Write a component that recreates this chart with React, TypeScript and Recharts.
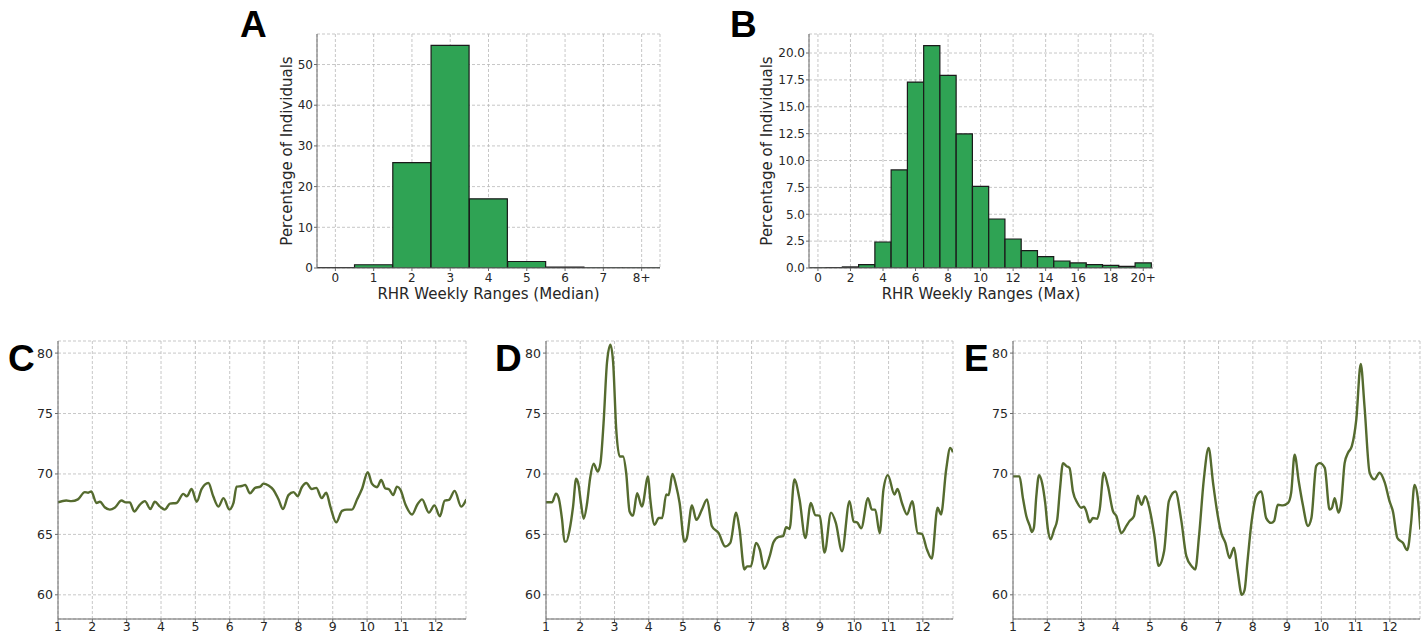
import { Bar, BarChart, CartesianGrid, Label, Line, LineChart, XAxis, YAxis } from 'recharts';

// histogram A: weekly RHR range (median), % of individuals
const medianBins = [0, 1, 2, 3, 4, 5, 6, 7, 8];
const medianBinLabels = ['0', '1', '2', '3', '4', '5', '6', '7', '8+'];
const medianPct = [0.1, 0.8, 25.9, 54.7, 17.0, 1.6, 0.2, 0.05, 0.05];

// histogram B: weekly RHR range (max)
const maxBins = [0, 1, 2, 3, 4, 5, 6, 7, 8, 9, 10, 11, 12, 13, 14, 15, 16, 17, 18, 19, 20];
const maxPct = [
  0.02, 0.04, 0.1, 0.31, 2.42, 9.12, 17.3, 20.68, 17.92, 12.47,
  7.6, 4.56, 2.7, 1.61, 1.05, 0.65, 0.47, 0.31, 0.25, 0.16,
  0.47,
];
const maxTicks = [0, 2, 4, 6, 8, 10, 12, 14, 16, 18, 20];
const maxTickLabels = ['0', '2', '4', '6', '8', '10', '12', '14', '16', '18', '20+'];

const medianYTicks = [0, 10, 20, 30, 40, 50];
const maxYTicks = [0, 2.5, 5, 7.5, 10, 12.5, 15, 17.5, 20];

// time series C/D/E (month, RHR)
const monthTicks = [1, 2, 3, 4, 5, 6, 7, 8, 9, 10, 11, 12];
const rhrTicks = [60, 65, 70, 75, 80];

const cMonth = [
  1.0, 1.24, 1.39, 1.58, 1.78, 1.88, 1.97, 2.12, 2.22, 2.36,
  2.51, 2.65, 2.85, 2.97, 3.09, 3.22, 3.38, 3.53, 3.69, 3.82,
  3.97, 4.11, 4.26, 4.45, 4.65, 4.75, 4.89, 5.04, 5.18, 5.38,
  5.52, 5.67, 5.82, 5.99, 6.11, 6.2, 6.35, 6.45, 6.59, 6.74,
  6.89, 6.98, 7.13, 7.27, 7.42, 7.55, 7.71, 7.86, 7.98, 8.1,
  8.23, 8.39, 8.52, 8.68, 8.81, 8.93, 9.1, 9.27, 9.41, 9.56,
  9.71, 9.85, 10.02, 10.14, 10.29, 10.41, 10.53, 10.63, 10.76, 10.87,
  10.97, 11.12, 11.31, 11.46, 11.6, 11.8, 11.96, 12.12, 12.26, 12.38,
  12.55, 12.74, 12.89,
];
const cRhr = [
  67.66, 67.8, 67.75, 67.9, 68.5, 68.45, 68.55, 67.6, 67.7, 67.25,
  67.05, 67.2, 67.8, 67.65, 67.65, 66.9, 67.45, 67.75, 67.1, 67.7,
  67.3, 67.05, 67.55, 67.6, 68.35, 68.15, 68.75, 67.7, 68.75, 69.25,
  68.15, 67.3, 68.0, 67.05, 67.6, 68.95, 69.0, 69.1, 68.4, 68.85,
  68.95, 69.2, 69.05, 68.7, 67.9, 67.1, 68.25, 68.5, 68.15, 68.9,
  69.25, 68.75, 68.85, 68.0, 68.45, 67.3, 66.0, 66.95, 67.05, 67.05,
  67.9, 68.75, 70.15, 69.2, 68.9, 69.5, 68.8, 68.75, 68.25, 68.95,
  68.7, 67.45, 66.65, 67.45, 67.9, 66.8, 67.4, 66.5, 67.8, 67.85,
  68.6, 67.3, 67.9,
];

const dMonth = [
  1.0, 1.18, 1.29, 1.37, 1.47, 1.54, 1.59, 1.69, 1.79, 1.88,
  1.95, 2.02, 2.1, 2.2, 2.29, 2.39, 2.51, 2.59, 2.68, 2.78,
  2.88, 2.96, 3.05, 3.15, 3.25, 3.34, 3.44, 3.54, 3.66, 3.8,
  3.98, 4.04, 4.17, 4.29, 4.39, 4.51, 4.58, 4.69, 4.8, 4.9,
  5.04, 5.11, 5.26, 5.39, 5.55, 5.7, 5.84, 6.04, 6.23, 6.38,
  6.55, 6.65, 6.79, 6.87, 6.98, 7.13, 7.24, 7.37, 7.53, 7.64,
  7.79, 7.92, 8.01, 8.11, 8.25, 8.4, 8.57, 8.73, 8.86, 8.99,
  9.13, 9.32, 9.46, 9.64, 9.86, 9.98, 10.08, 10.2, 10.4, 10.51,
  10.61, 10.74, 10.85, 10.98, 11.17, 11.26, 11.39, 11.54, 11.69, 11.85,
  11.97, 12.12, 12.26, 12.43, 12.53, 12.68, 12.8, 12.88,
];
const dRhr = [
  67.66, 67.66, 68.37, 68.0, 66.2, 64.4, 64.4, 65.4, 67.3, 69.6,
  69.1, 67.6, 66.3, 67.6, 69.7, 70.85, 70.2, 70.9, 74.2, 79.2,
  80.7, 79.2, 73.7, 71.45, 71.45, 70.1, 66.9, 66.55, 68.4, 67.3,
  69.8, 68.0, 65.8, 66.35, 66.35, 68.3, 68.25, 70.0, 69.0, 67.6,
  64.4, 64.7, 67.4, 66.2, 67.05, 67.9, 65.7, 65.1, 64.0, 64.3,
  66.8, 65.4, 62.1, 62.35, 62.35, 64.3, 63.75, 62.15, 63.2, 64.35,
  64.8, 64.85, 65.6, 65.45, 69.55, 67.9, 64.7, 67.6, 66.6, 66.55,
  63.5, 66.8, 65.95, 63.6, 67.75, 66.05, 66.0, 65.5, 68.0, 67.05,
  67.05, 65.1, 68.7, 69.9, 68.3, 68.75, 67.6, 66.65, 67.75, 65.1,
  65.05, 63.75, 63.0, 67.2, 66.65, 70.35, 72.15, 71.8,
];

const eMonth = [
  1.0, 1.19, 1.29, 1.39, 1.49, 1.55, 1.61, 1.68, 1.76, 1.85,
  1.94, 2.02, 2.1, 2.2, 2.29, 2.37, 2.46, 2.56, 2.65, 2.75,
  2.88, 2.99, 3.07, 3.14, 3.24, 3.33, 3.46, 3.53, 3.65, 3.77,
  3.92, 4.02, 4.16, 4.31, 4.4, 4.53, 4.64, 4.75, 4.86, 4.99,
  5.13, 5.25, 5.41, 5.55, 5.74, 5.91, 6.06, 6.22, 6.32, 6.43,
  6.57, 6.71, 6.84, 6.98, 7.08, 7.2, 7.32, 7.45, 7.55, 7.68,
  7.76, 7.84, 7.96, 8.1, 8.25, 8.39, 8.54, 8.62, 8.73, 8.88,
  9.03, 9.12, 9.22, 9.34, 9.46, 9.61, 9.71, 9.85, 9.95, 10.1,
  10.24, 10.31, 10.39, 10.5, 10.58, 10.68, 10.78, 10.89, 11.02, 11.15,
  11.26, 11.41, 11.55, 11.7, 11.85, 11.99, 12.09, 12.22, 12.38, 12.51,
  12.62, 12.72, 12.82, 12.89,
];
const eRhr = [
  69.8, 69.8, 68.0, 66.5, 65.7, 65.2, 65.55, 68.15, 69.9, 69.25,
  67.6, 65.4, 64.6, 65.4, 66.2, 68.7, 70.9, 70.65, 70.5, 68.55,
  67.6, 67.2, 67.3, 66.9, 66.0, 66.35, 66.3, 67.05, 70.1, 69.0,
  66.9, 66.5, 65.1, 65.7, 66.1, 66.5, 68.2, 67.45, 68.15, 67.05,
  64.85, 62.4, 63.6, 67.75, 68.55, 66.2, 63.2, 62.35, 62.1, 64.85,
  69.55, 72.15, 69.25, 66.5, 65.1, 64.3, 63.05, 63.9, 62.1, 60.0,
  60.4, 62.65, 65.95, 68.15, 68.55, 66.35, 65.95, 66.1, 67.45, 67.4,
  67.6, 68.45, 71.6, 69.4, 67.45, 65.7, 66.35, 70.65, 70.9, 70.5,
  67.05, 67.2, 68.0, 66.8, 67.6, 70.9, 71.75, 72.3, 74.5, 79.1,
  75.6, 70.1, 69.55, 70.1, 69.3, 67.75, 66.9, 64.7, 64.3, 63.7,
  65.95, 69.1, 67.9, 65.4,
];

const FONT = "'DejaVu Sans', 'Liberation Sans', sans-serif";
const FRAME = '#6b6b6b';
const GRID = '#b9b9b9';
const GREEN = '#2fa354';
const OLIVE = '#556b2f';
const TICK = { fontFamily: FONT, fontSize: 12, fill: '#262626' };
const LINE_TICK = { fontFamily: FONT, fontSize: 12.5, fill: '#262626' };
const LABEL = { fontFamily: FONT, fontSize: 15, fill: '#262626' };

type Plot = { l: number; r: number; t: number; b: number };

function PanelLetter({ text, left, top }: { text: string; left: number; top: number }) {
  return (
    <div
      style={{
        position: 'absolute',
        left,
        top,
        fontFamily: "'Liberation Sans', Arial, sans-serif",
        fontWeight: 700,
        fontSize: 37,
        lineHeight: '37px',
        color: '#000',
      }}
    >
      {text}
    </div>
  );
}

interface HistProps {
  x: number;
  w: number;
  h: number;
  plot: Plot;
  bins: number[];
  pct: number[];
  xDomain: [number, number];
  xTicks: number[];
  xTickLabels: string[];
  yDomain: [number, number];
  yTicks: number[];
  yFmt: (v: number) => string;
  barSize: number;
  xLabel: string;
  yLabelX: number;
}

function HistPanel(p: HistProps) {
  const yw = 60;
  const xh = 40;
  const margin = { left: p.plot.l - p.x - yw, right: p.x + p.w - p.plot.r, top: p.plot.t, bottom: p.h - p.plot.b - xh };
  const data = p.bins.map((b, i) => ({ bin: b, pct: p.pct[i] }));
  const fmtX = (v: number) => p.xTickLabels[p.xTicks.indexOf(v)] ?? String(v);
  return (
    <div style={{ position: 'absolute', left: p.x, top: 0 }}>
      <BarChart width={p.w} height={p.h} data={data} margin={margin} barGap={0} barCategoryGap={0}>
        <CartesianGrid stroke={GRID} strokeDasharray="3 2" strokeWidth={0.8} />
        <XAxis
          dataKey="bin"
          type="number"
          domain={p.xDomain}
          ticks={p.xTicks}
          allowDataOverflow
          interval={0}
          tickFormatter={fmtX}
          axisLine={{ stroke: FRAME }}
          tickLine={{ stroke: FRAME }}
          tickSize={3}
          tickMargin={2}
          height={xh}
          tick={TICK}
        >
          <Label value={p.xLabel} position="insideBottom" offset={9} {...LABEL} />
        </XAxis>
        <XAxis
          xAxisId="top"
          orientation="top"
          type="number"
          domain={p.xDomain}
          allowDataOverflow
          tick={false}
          tickLine={false}
          height={0}
          axisLine={{ stroke: FRAME }}
        />
        <YAxis
          type="number"
          domain={p.yDomain}
          ticks={p.yTicks}
          allowDataOverflow
          interval={0}
          tickFormatter={p.yFmt}
          axisLine={{ stroke: FRAME }}
          tickLine={{ stroke: FRAME }}
          tickSize={3}
          tickMargin={1}
          width={yw}
          tick={TICK}
        >
          <Label
            value="Percentage of Individuals"
            angle={-90}
            position="insideLeft"
            offset={p.yLabelX - (p.plot.l - yw)}
            style={{ textAnchor: 'middle' }}
            {...LABEL}
          />
        </YAxis>
        <YAxis
          yAxisId="right"
          orientation="right"
          type="number"
          domain={p.yDomain}
          allowDataOverflow
          tick={false}
          tickLine={false}
          width={0}
          axisLine={{ stroke: FRAME }}
        />
        <Bar dataKey="pct" fill={GREEN} stroke="#1a1a1a" strokeWidth={1.2} barSize={p.barSize} isAnimationActive={false} />
      </BarChart>
    </div>
  );
}

interface LineProps {
  x: number;
  w: number;
  plot: Plot;
  months: number[];
  rhr: number[];
}

function LinePanel(p: LineProps) {
  const top = 330;
  const h = 304;
  const yw = 40;
  const xh = 14;
  const margin = { left: p.plot.l - p.x - yw, right: p.x + p.w - p.plot.r, top: p.plot.t - top, bottom: top + h - p.plot.b - xh };
  const data = p.months.map((m, i) => ({ month: m, rhr: p.rhr[i] }));
  const xDomain: [number, number] = [1, 12.88];
  const yDomain: [number, number] = [58, 81];
  return (
    <div style={{ position: 'absolute', left: p.x, top }}>
      <LineChart width={p.w} height={h} data={data} margin={margin}>
        <CartesianGrid stroke={GRID} strokeDasharray="3 2" strokeWidth={0.8} />
        <XAxis
          dataKey="month"
          type="number"
          domain={xDomain}
          ticks={monthTicks}
          allowDataOverflow
          interval={0}
          axisLine={{ stroke: FRAME }}
          tickLine={{ stroke: FRAME }}
          tickSize={3}
          tickMargin={0}
          height={xh}
          tick={LINE_TICK}
        />
        <XAxis
          xAxisId="top"
          orientation="top"
          type="number"
          domain={xDomain}
          allowDataOverflow
          tick={false}
          tickLine={false}
          height={0}
          axisLine={{ stroke: FRAME }}
        />
        <YAxis
          type="number"
          domain={yDomain}
          ticks={rhrTicks}
          allowDataOverflow
          interval={0}
          axisLine={{ stroke: FRAME }}
          tickLine={{ stroke: FRAME }}
          tickSize={3}
          tickMargin={2}
          width={yw}
          tick={LINE_TICK}
        />
        <YAxis
          yAxisId="right"
          orientation="right"
          type="number"
          domain={yDomain}
          allowDataOverflow
          tick={false}
          tickLine={false}
          width={0}
          axisLine={{ stroke: FRAME }}
        />
        <Line type="monotone" dataKey="rhr" stroke={OLIVE} strokeWidth={2.4} dot={false} isAnimationActive={false} />
      </LineChart>
    </div>
  );
}

export default function App() {
  return (
    <div style={{ position: 'absolute', left: 0, top: 0, width: 1426, height: 634, background: '#fff', overflow: 'hidden' }}>
      <HistPanel
        x={0}
        w={700}
        h={310}
        plot={{ l: 317, r: 660, t: 34, b: 268 }}
        bins={medianBins}
        pct={medianPct}
        xDomain={[-0.48, 8.48]}
        xTicks={medianBins}
        xTickLabels={medianBinLabels}
        yDomain={[0, 57.5]}
        yTicks={medianYTicks}
        yFmt={(v) => String(v)}
        barSize={38}
        xLabel="RHR Weekly Ranges (Median)"
        yLabelX={287}
      />
      <HistPanel
        x={700}
        w={500}
        h={310}
        plot={{ l: 809, r: 1153, t: 34, b: 268 }}
        bins={maxBins}
        pct={maxPct}
        xDomain={[-0.55, 20.6]}
        xTicks={maxTicks}
        xTickLabels={maxTickLabels}
        yDomain={[0, 21.77]}
        yTicks={maxYTicks}
        yFmt={(v) => v.toFixed(1)}
        barSize={16.2}
        xLabel="RHR Weekly Ranges (Max)"
        yLabelX={767}
      />
      <LinePanel x={0} w={480} plot={{ l: 58, r: 466, t: 341, b: 619 }} months={cMonth} rhr={cRhr} />
      <LinePanel x={490} w={470} plot={{ l: 546, r: 953, t: 341, b: 619 }} months={dMonth} rhr={dRhr} />
      <LinePanel x={960} w={466} plot={{ l: 1013, r: 1420, t: 341, b: 619 }} months={eMonth} rhr={eRhr} />
      <PanelLetter text="A" left={240} top={6} />
      <PanelLetter text="B" left={730} top={6} />
      <PanelLetter text="C" left={8} top={340} />
      <PanelLetter text="D" left={495} top={340} />
      <PanelLetter text="E" left={964} top={340} />
    </div>
  );
}
